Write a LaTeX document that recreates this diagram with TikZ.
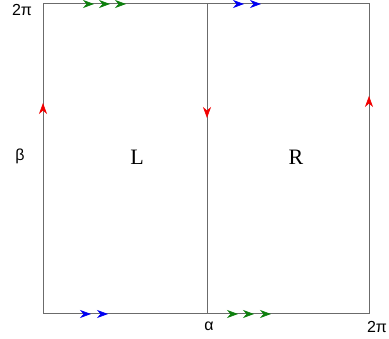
\documentclass[tikz,border=0pt]{standalone}
\usepackage{fontspec}
\setmainfont{Liberation Serif}
\setsansfont{Liberation Sans}
\usetikzlibrary{arrows.meta}
\definecolor{edgegray}{gray}{0.42}
\definecolor{tipgreen}{rgb}{0.05,0.5,0.05}
\definecolor{tipblue}{rgb}{0,0,0.95}
\definecolor{tipred}{rgb}{0.95,0,0}
\tikzset{
  edge/.style={draw=edgegray, line width=1pt},
  tip/.style={line width=0.6pt, -{Stealth[length=11pt,width=8pt,inset=3.5pt]}},
  lbl/.style={font=\sffamily\fontsize{16}{18}\selectfont, inner sep=0pt},
  reg/.style={font=\rmfamily\fontsize{22}{24}\selectfont, inner sep=0pt}
}
\begin{document}
\begin{tikzpicture}[x=1pt,y=-1pt]
\useasboundingbox (0,0) rectangle (389,339);
\coordinate (tl) at (43,4);
\coordinate (tr) at (369,4);
\coordinate (bl) at (43,314);
\coordinate (br) at (369,314);
\coordinate (mt) at (207,4);
\coordinate (mb) at (207,314);
\draw[edge] (tl) -- (tr) -- (br) -- (bl) -- cycle;
\draw[edge] (mt) -- (mb);
% green arrows
\foreach \x in {94,110,126} \draw[tip, tipgreen] (\x-2,4) -- (\x,4);
\foreach \x in {238,254,271} \draw[tip, tipgreen] (\x-2,314) -- (\x,314);
% blue arrows
\foreach \x in {244,261} \draw[tip, tipblue] (\x-2,4) -- (\x,4);
\foreach \x in {91,108} \draw[tip, tipblue] (\x-2,314) -- (\x,314);
% red arrows
\draw[tip, tipred] (43,105) -- (43,103);
\draw[tip, tipred] (207,116) -- (207,118);
\draw[tip, tipred] (369,98) -- (369,96);
% labels
\node[lbl] (tp) at (22,10) {2π};
\node[lbl] (be) at (20,156) {β};
\node[reg] (L) at (137,157) {L};
\node[reg] (R) at (296,157) {R};
\node[lbl] (al) at (209,326) {α};
\node[lbl] (bp) at (377,327) {2π};
\end{tikzpicture}
\end{document}
